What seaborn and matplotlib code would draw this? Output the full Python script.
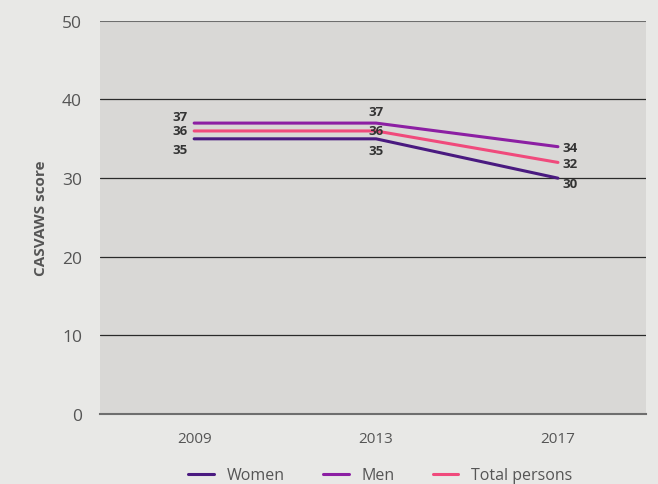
import pandas as pd
import numpy as np
import matplotlib.pyplot as plt
import seaborn as sns

# data
years = [2009, 2013, 2017]
women = [35, 35, 30]
men = [37, 37, 34]
total = [36, 36, 32]

df = pd.DataFrame({
    'year': years * 3,
    'score': women + men + total,
    'group': ['Women'] * 3 + ['Men'] * 3 + ['Total persons'] * 3,
})

colors = {'Women': '#4a1a80', 'Men': '#8c1fa3', 'Total persons': '#f04a7c'}

sns.set_style('white')
plt.rcParams['font.family'] = ['Open Sans', 'DejaVu Sans']

fig = plt.figure(figsize=(6.58, 4.85), dpi=100, facecolor='#e8e8e6')
ax = fig.add_axes([0.152, 0.144, 0.83, 0.811])
ax.set_facecolor('#d9d8d6')

sns.lineplot(data=df, x='year', y='score', hue='group', palette=colors,
             linewidth=2.2, ax=ax, legend=False)

ax.set_ylim(0, 50)
ax.set_xlim(2006.93, 2018.94)
ax.set_yticks([0, 10, 20, 30, 40, 50])
ax.set_xticks(years)
ax.set_xticklabels([str(y) for y in years])
for y in [10, 20, 30, 40]:
    ax.axhline(y, color='#2a2a2a', lw=0.9, zorder=0.5)
ax.axhline(50, color='#6e6e6e', lw=1.5, zorder=3)

for s in ['top', 'right', 'left']:
    ax.spines[s].set_visible(False)
ax.spines['bottom'].set_color('#6e6e6e')
ax.spines['bottom'].set_linewidth(1.5)
ax.tick_params(axis='y', length=0, pad=13, labelsize=12.5, labelcolor='#555555')
ax.tick_params(axis='x', length=6, width=1, color='#555555', pad=6,
               labelsize=11, labelcolor='#555555', direction='out')
ax.set_xlabel('')
ax.set_ylabel('CASVAWS score', fontsize=11, fontweight='bold', color='#555555',
              labelpad=10)

lab = dict(fontsize=9.5, fontweight='bold', color='#333333')
# 2009 labels, left of line start
ax.text(2008.85, men[0] + 0.9, str(men[0]), ha='right', va='center', **lab)
ax.text(2008.85, total[0], str(total[0]), ha='right', va='center', **lab)
ax.text(2008.85, women[0] - 1.3, str(women[0]), ha='right', va='center', **lab)
# 2013 labels
ax.text(2013, men[1] + 1.5, str(men[1]), ha='center', va='center', **lab)
ax.text(2013, total[1] + 0.1, str(total[1]), ha='center', va='center', **lab)
ax.text(2013, women[1] - 1.5, str(women[1]), ha='center', va='center', **lab)
# 2017 labels, right of line end
ax.text(2017.1, men[2] - 0.1, str(men[2]), ha='left', va='center', **lab)
ax.text(2017.1, total[2] - 0.2, str(total[2]), ha='left', va='center', **lab)
ax.text(2017.1, women[2] - 0.7, str(women[2]), ha='left', va='center', **lab)

handles = [plt.Line2D([], [], color=colors[g], lw=2.2) for g in colors]
fig.legend(handles, list(colors), loc='lower center', ncol=3, frameon=False,
           bbox_to_anchor=(0.578, -0.028), fontsize=11.5, handlelength=1.6,
           columnspacing=2.4, labelcolor='#555555')

fig.savefig('out.png', dpi=100, facecolor=fig.get_facecolor())
